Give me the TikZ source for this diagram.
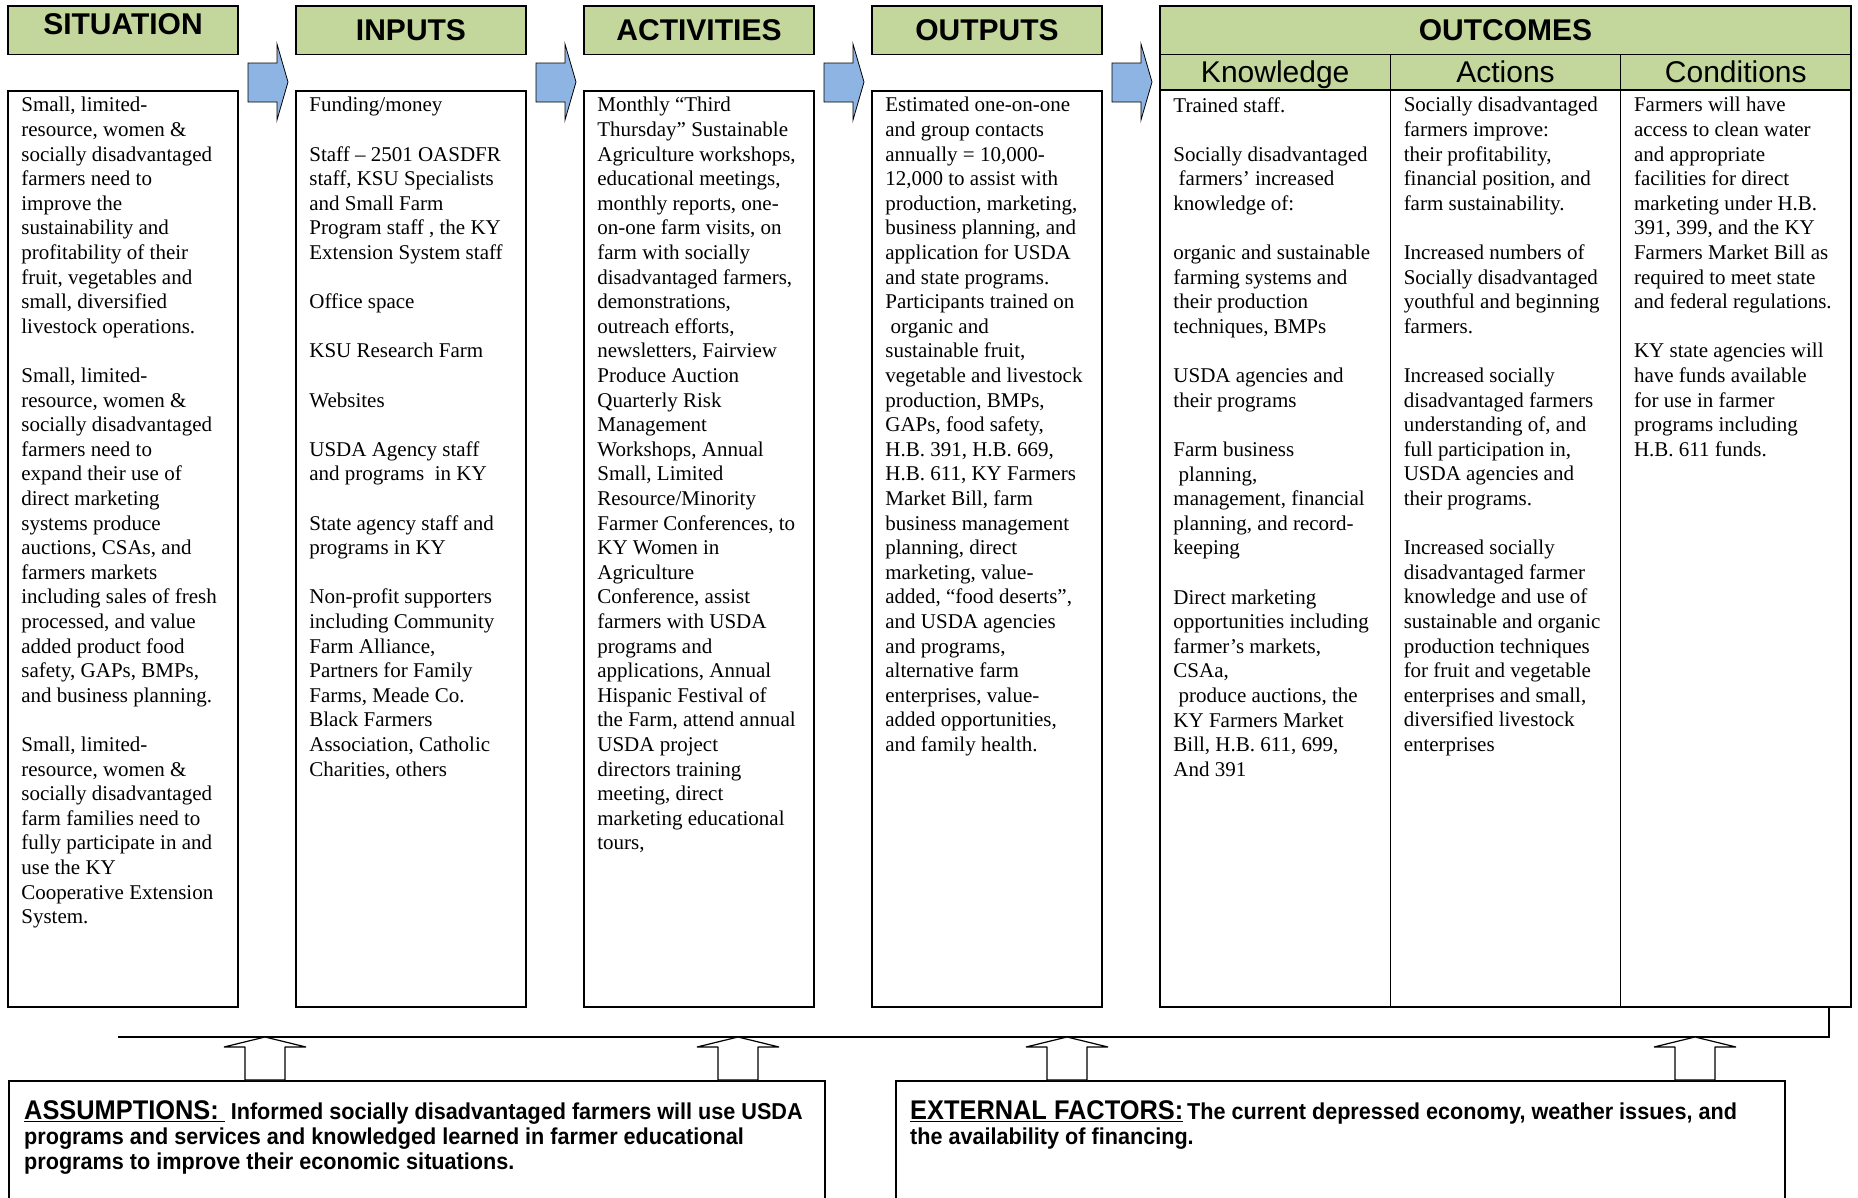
\documentclass[tikz,border=0pt]{standalone}
\usepackage{fontspec}
\setmainfont{Liberation Serif}
\newfontfamily\headfam{Liberation Sans}
\newfontfamily\notefam[FakeStretch=0.94]{Liberation Sans}
\usepackage{tikz}
\usetikzlibrary{calc}
\definecolor{headgreen}{RGB}{195,214,155}
\definecolor{arrowblue}{RGB}{141,180,226}
\newcommand{\headfont}{\headfam\bfseries\fontsize{30}{32}\selectfont}
\newcommand{\subfont}{\headfam\fontsize{30}{32}\selectfont}
\newcommand{\bodyfont}{\fontsize{21}{24.6}\selectfont}
\newcommand{\notefont}{\notefam\bfseries\fontsize{23}{25}\selectfont}
\newcommand{\skipline}{\\[24.6pt]}

\begin{document}
\begin{tikzpicture}[x=1pt, y=-1pt,
    header/.style={rectangle, draw, line width=1.8pt, fill=headgreen, minimum width=230pt, minimum height=48.5pt, inner sep=0pt, font=\headfont},
    subhead/.style={rectangle, draw, line width=1.2pt, fill=headgreen, minimum width=230.33pt, minimum height=35.5pt, inner sep=0pt, text height=27pt, text depth=6.5pt, font=\subfont},
    column/.style={rectangle, draw, line width=1.6pt, minimum width=230pt, minimum height=916pt},
    entry/.style={anchor=north west, inner sep=0pt, align=left, font=\bodyfont},
    notebox/.style={rectangle, draw, line width=1.6pt, anchor=north west, minimum height=119pt},
    note/.style={anchor=north west, inner sep=0pt, align=left, font=\notefont},
    flowarrow/.style={draw, line width=0.8pt, fill=arrowblue},
    uparrow/.style={draw, line width=1.2pt, line join=bevel, fill=white}]

    \useasboundingbox (0,0) rectangle (1858,1197);

    % Headers
    \node[header, text depth=12pt] (sithead) at (123,30.25) {SITUATION};
    \node[header] (inphead) at (411,30.25) {INPUTS};
    \node[header] (actvhead) at (699,30.25) {ACTIVITIES};
    \node[header] (outphead) at (987,30.25) {OUTPUTS};
    \node[header, minimum width=691pt] (outchead) at (1505.5,30.25) {OUTCOMES};
    \node[subhead] (knowhead) at (1275.2,72.25) {Knowledge};
    \node[subhead] (actnhead) at (1505.5,72.25) {Actions};
    \node[subhead] (condhead) at (1735.8,72.25) {Conditions};

    % Columns
    \node[column] (sitbox) at (123,549) {};
    \node[column] (inpbox) at (411,549) {};
    \node[column] (actvbox) at (699,549) {};
    \node[column] (outpbox) at (987,549) {};
    \node[column, minimum width=230.33pt, minimum height=917pt] (knowbox) at (1275.2,548.5) {};
    \node[column, minimum width=230.33pt, minimum height=917pt] (actnbox) at (1505.5,548.5) {};
    \node[column, minimum width=230.33pt, minimum height=917pt] (condbox) at (1735.8,548.5) {};

    % Flow arrows
    \foreach \x in {248,536,824,1112}
        \draw[flowarrow] (\x,63) -- ++(29,0) -- ++(0,-19) -- ++(11,38) -- ++(-11,38) -- ++(0,-18) -- ++(-29,0) -- cycle;

    % Column texts
    \node[entry] (sittext) at ($(sitbox.north west)+(14,7)$) {Small, limited-\\resource, women \&\\socially disadvantaged\\farmers need to\\improve the\\sustainability and\\profitability of their\\fruit, vegetables and\\small, diversified\\livestock operations.\skipline
    Small, limited-\\resource, women \&\\socially disadvantaged\\farmers need to\\expand their use of\\direct marketing\\systems produce\\auctions, CSAs, and\\farmers markets\\including sales of fresh\\processed, and value\\added product food\\safety, GAPs, BMPs,\\and business planning.\skipline
    Small, limited-\\resource, women \&\\socially disadvantaged\\farm families need to\\fully participate in and\\use the KY\\Cooperative Extension\\System.};

    \node[entry] (inptext) at ($(inpbox.north west)+(14,7)$) {Funding/money\skipline
    Staff -- 2501 OASDFR\\staff, KSU Specialists\\and Small Farm\\Program staff , the KY\\Extension System staff\skipline
    Office space\skipline
    KSU Research Farm\skipline
    Websites\skipline
    USDA Agency staff\\and programs \ in KY\skipline
    State agency staff and\\programs in KY\skipline
    Non-profit supporters\\including Community\\Farm Alliance,\\Partners for Family\\Farms, Meade Co.\\Black Farmers\\Association, Catholic\\Charities, others};

    \node[entry] (actvtext) at ($(actvbox.north west)+(14,7)$) {Monthly ``Third\\Thursday'' Sustainable\\Agriculture workshops,\\educational meetings,\\monthly reports, one-\\on-one farm visits, on\\farm with socially\\disadvantaged farmers,\\demonstrations,\\outreach efforts,\\newsletters, Fairview\\Produce Auction\\Quarterly Risk\\Management\\Workshops, Annual\\Small, Limited\\Resource/Minority\\Farmer Conferences, to\\KY Women in\\Agriculture\\Conference, assist\\farmers with USDA\\programs and\\applications, Annual\\Hispanic Festival of\\the Farm, attend annual\\USDA project\\directors training\\meeting, direct\\marketing educational\\tours,};

    \node[entry] (outptext) at ($(outpbox.north west)+(14,7)$) {Estimated one-on-one\\and group contacts\\annually = 10,000-\\12,000 to assist with\\production, marketing,\\business planning, and\\application for USDA\\and state programs.\\Participants trained on\\\ organic and\\sustainable fruit,\\vegetable and livestock\\production, BMPs,\\GAPs, food safety,\\H.B. 391, H.B. 669,\\H.B. 611, KY Farmers\\Market Bill, farm\\business management\\planning, direct\\marketing, value-\\added, ``food deserts'',\\and USDA agencies\\and programs,\\alternative farm\\enterprises, value-\\added opportunities,\\and family health.};

    \node[entry] (knowtext) at ($(knowbox.north west)+(14,8)$) {Trained staff.\skipline
    Socially disadvantaged\\\ farmers' increased\\knowledge of:\skipline
    organic and sustainable\\farming systems and\\their production\\techniques, BMPs\skipline
    USDA agencies and\\their programs\skipline
    Farm business\\\ planning,\\management, financial\\planning, and record-\\keeping\skipline
    Direct marketing\\opportunities including\\farmer's markets,\\CSAa,\\\ produce auctions, the\\KY Farmers Market\\Bill, H.B. 611, 699,\\And 391};

    \node[entry] (actntext) at ($(actnbox.north west)+(14,8)$) {Socially disadvantaged\\farmers improve:\\their profitability,\\financial position, and\\farm sustainability.\skipline
    Increased numbers of\\Socially disadvantaged\\youthful and beginning\\farmers.\skipline
    Increased socially\\disadvantaged farmers\\understanding of, and\\full participation in,\\USDA agencies and\\their programs.\skipline
    Increased socially\\disadvantaged farmer\\knowledge and use of\\sustainable and organic\\production techniques\\for fruit and vegetable\\enterprises and small,\\diversified livestock\\enterprises};

    \node[entry] (condtext) at ($(condbox.north west)+(14,8)$) {Farmers will have\\access to clean water\\and appropriate\\facilities for direct\\marketing under H.B.\\391, 399, and the KY\\Farmers Market Bill as\\required to meet state\\and federal regulations.\skipline
    KY state agencies will\\have funds available\\for use in farmer\\programs including\\H.B. 611 funds.};

    % Assumptions and external factors
    \node[notebox, minimum width=816pt] (assume) at (8,1080) {};
    \node[notebox, minimum width=889pt] (extern) at (895,1080) {};
    \node[note] (assumetext) at ($(assume.north west)+(16,20)$) {\underline{{\fontsize{27}{25}\selectfont ASSUMPTIONS:}~}~Informed socially disadvantaged farmers will use USDA\\programs and services and knowledged learned in farmer educational\\programs to improve their economic situations.};
    \node[note] (externtext) at ($(extern.north west)+(15,20)$) {\underline{{\fontsize{27}{25}\selectfont EXTERNAL FACTORS:}}\,The current depressed economy, weather issues, and\\the availability of financing.};

    % Feedback line
    \coordinate (linestart) at (118,1037);
    \draw[line width=1.5pt] (linestart) -| ($(condbox.south east)+(-23,0)$);
    \foreach \x in {265,738,1067,1695}
        \draw[uparrow] (\x,1037) -- ++(41,10) -- ++(-21,0) -- ++(0,33) -- ++(-40,0) -- ++(0,-33) -- ++(-21,0) -- cycle;
\end{tikzpicture}
\end{document}
